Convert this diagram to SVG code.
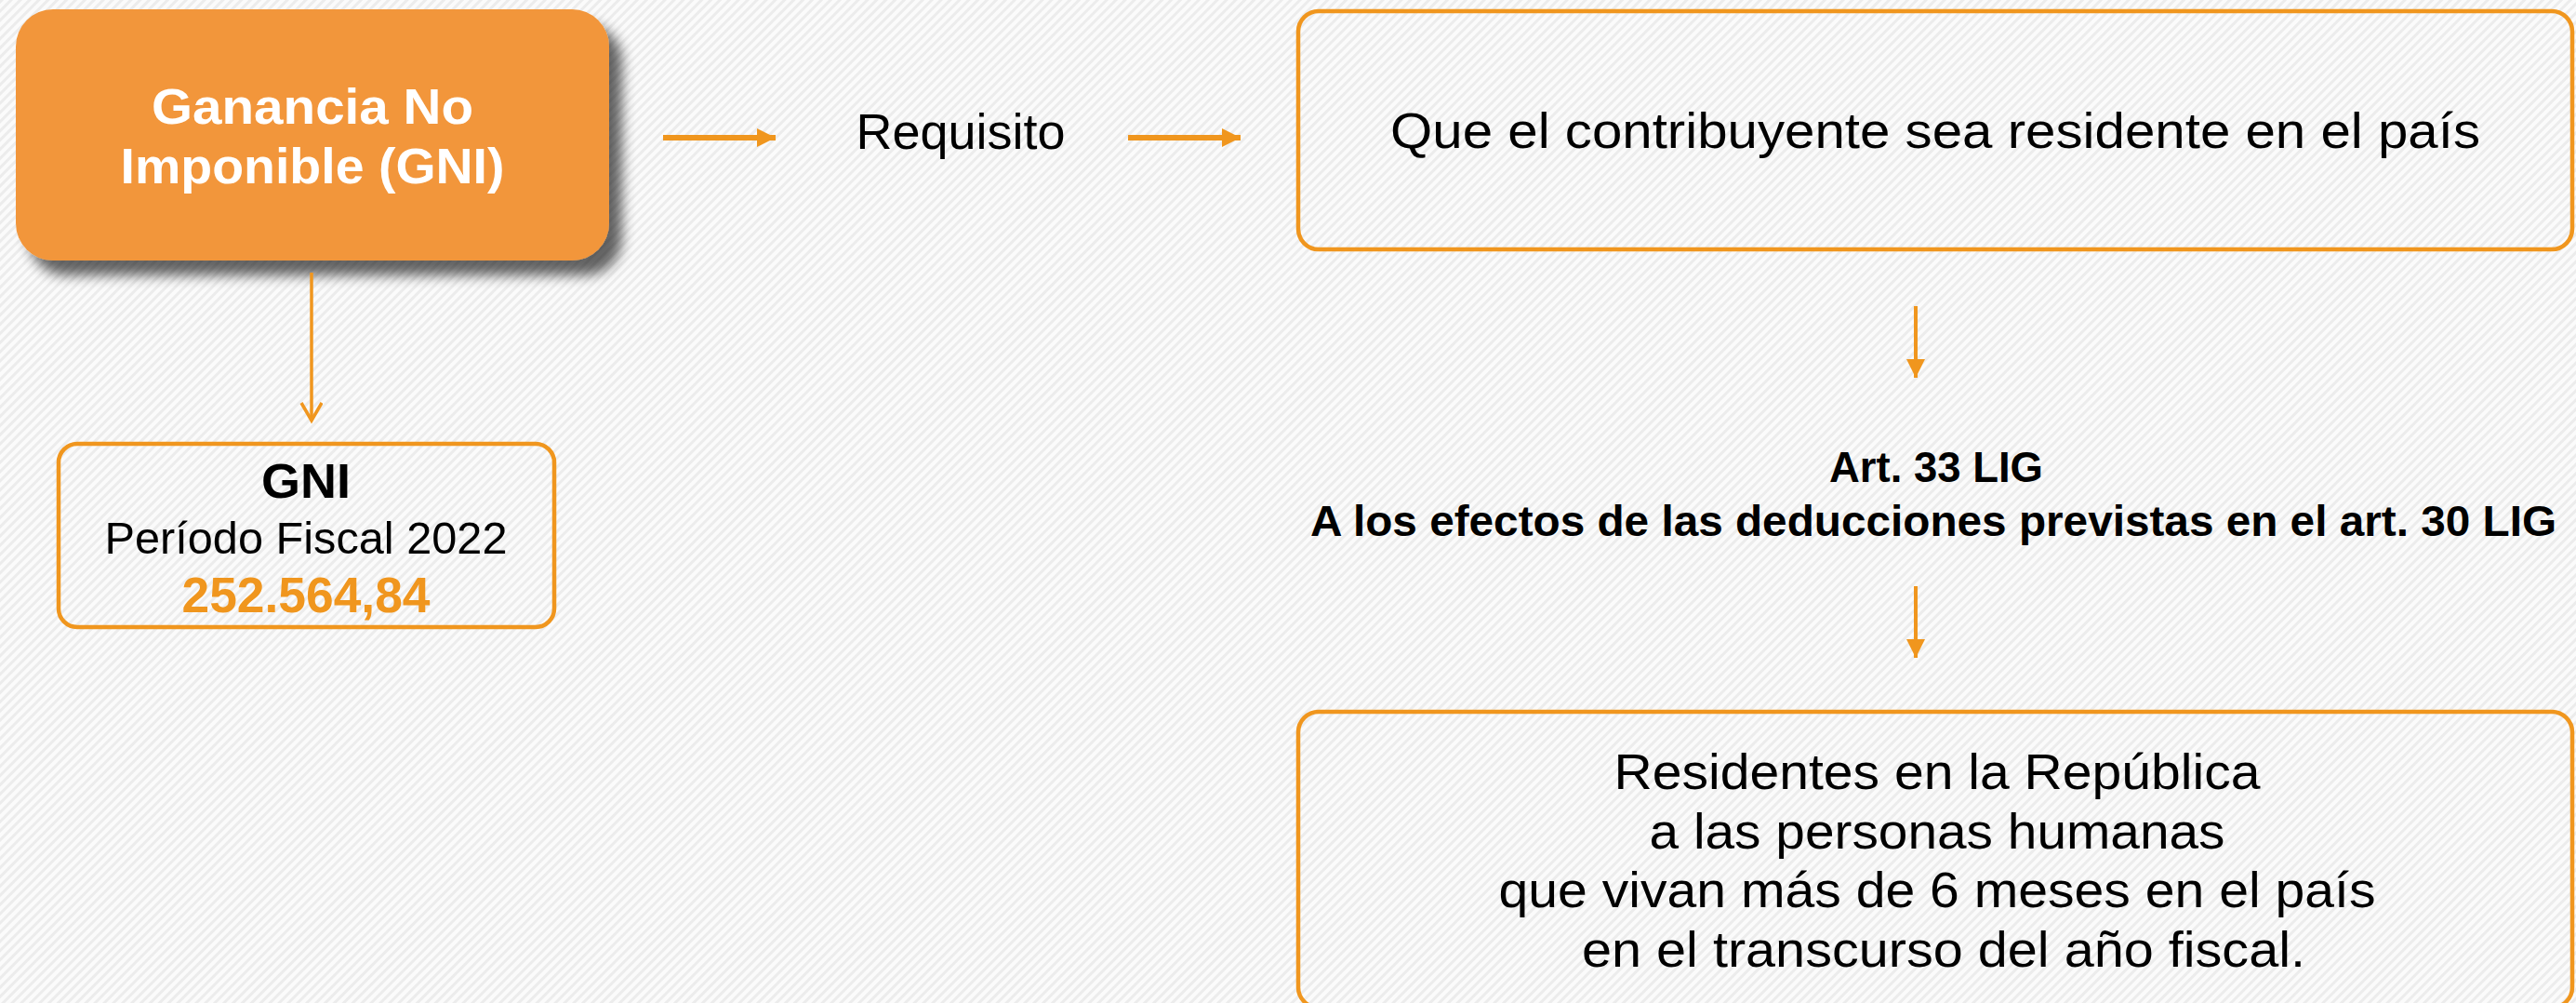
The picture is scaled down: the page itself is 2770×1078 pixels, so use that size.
<svg xmlns="http://www.w3.org/2000/svg" width="2770" height="1078" viewBox="0 0 2770 1078">
  <defs>
    <pattern id="stripes" width="7" height="7" patternUnits="userSpaceOnUse" patternTransform="rotate(45)">
      <rect width="7" height="7" fill="#fbfbfb"/>
      <rect width="3" height="7" fill="#ececec"/>
    </pattern>
    <filter id="shadow" x="-10%" y="-10%" width="125%" height="130%">
      <feGaussianBlur in="SourceAlpha" stdDeviation="7"/>
      <feOffset dx="14" dy="16" result="b"/>
      <feComponentTransfer><feFuncA type="linear" slope="0.6"/></feComponentTransfer>
      <feMerge><feMergeNode/><feMergeNode in="SourceGraphic"/></feMerge>
    </filter>
    <marker id="tri" markerUnits="userSpaceOnUse" markerWidth="24" markerHeight="24" refX="20" refY="10" orient="auto">
      <path d="M0,0 L20,10 L0,20 Z" fill="#F0961E"/>
    </marker>
    <marker id="chev" markerUnits="userSpaceOnUse" markerWidth="30" markerHeight="30" refX="21" refY="12" orient="auto">
      <path d="M2,1 L21,12 L2,23" fill="none" stroke="#F0961E" stroke-width="3.5"/>
    </marker>
  </defs>
  <style>
    text { font-family: "Liberation Sans", Arial, sans-serif; text-anchor: middle; }
    .reg { font-size: 53px; fill: #000; }
    .bold { font-weight: bold; fill: #000; }
    .white { font-weight: bold; font-size: 54px; fill: #ffffff; }
    .box { fill: none; stroke: #F0961E; stroke-width: 4.5; }
    .conn { stroke: #F0961E; fill: none; }
  </style>
  <rect width="2770" height="1078" fill="url(#stripes)"/>

  <g id="node-gni-main">
    <rect x="17" y="10" width="638" height="270" rx="40" fill="#F2963A" filter="url(#shadow)"/>
    <text class="white" x="336" y="133" textLength="346" lengthAdjust="spacingAndGlyphs">Ganancia No</text>
    <text class="white" x="336" y="197" textLength="413" lengthAdjust="spacingAndGlyphs">Imponible (GNI)</text>
  </g>

  <g id="node-gni-value">
    <rect class="box" x="63" y="477" width="533" height="197" rx="20"/>
    <text class="bold" x="329" y="535" style="font-size:52px" textLength="96" lengthAdjust="spacingAndGlyphs">GNI</text>
    <text class="reg" x="329" y="595" style="font-size:49px" textLength="433" lengthAdjust="spacingAndGlyphs">Período Fiscal 2022</text>
    <text x="329" y="658" style="font-size:53px;font-weight:bold;fill:#F0961E" textLength="267" lengthAdjust="spacingAndGlyphs">252.564,84</text>
  </g>

  <g id="node-requisito">
    <text class="reg" x="1033" y="160" textLength="225" lengthAdjust="spacingAndGlyphs">Requisito</text>
  </g>

  <g id="node-residente">
    <rect class="box" x="1396" y="12" width="1370" height="256" rx="22"/>
    <text class="reg" x="2081" y="159" textLength="1172" lengthAdjust="spacingAndGlyphs">Que el contribuyente sea residente en el país</text>
  </g>

  <g id="node-art33">
    <text class="bold" x="2082" y="518" style="font-size:47px" textLength="230" lengthAdjust="spacingAndGlyphs">Art. 33 LIG</text>
    <text class="bold" x="2079" y="576" style="font-size:47px" textLength="1340" lengthAdjust="spacingAndGlyphs">A los efectos de las deducciones previstas en el art. 30 LIG</text>
  </g>

  <g id="node-residentes-republica">
    <rect class="box" x="1396" y="765" width="1370" height="318" rx="22"/>
    <text class="reg" x="2083" y="848" textLength="695" lengthAdjust="spacingAndGlyphs">Residentes en la República</text>
    <text class="reg" x="2083" y="912" textLength="619" lengthAdjust="spacingAndGlyphs">a las personas humanas</text>
    <text class="reg" x="2083" y="975" textLength="943" lengthAdjust="spacingAndGlyphs">que vivan más de 6 meses en el país</text>
    <text class="reg" x="2090" y="1039" textLength="778" lengthAdjust="spacingAndGlyphs">en el transcurso del año fiscal.</text>
  </g>

  <g id="connectors">
    <path class="conn" d="M335,293 L335,452" stroke-width="3.5" marker-end="url(#chev)"/>
    <path class="conn" d="M713,148 L834,148" stroke-width="6" marker-end="url(#tri)"/>
    <path class="conn" d="M1213,148 L1334,148" stroke-width="6" marker-end="url(#tri)"/>
    <path class="conn" d="M2060,329 L2060,406" stroke-width="4" marker-end="url(#tri)"/>
    <path class="conn" d="M2060,630 L2060,707" stroke-width="4" marker-end="url(#tri)"/>
  </g>
</svg>
